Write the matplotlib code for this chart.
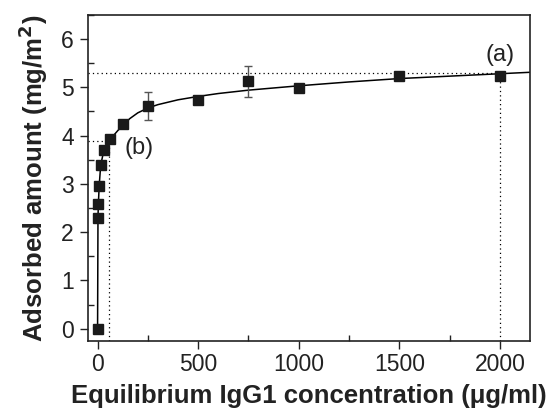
import matplotlib
matplotlib.use("Agg")
import matplotlib.pyplot as plt
from matplotlib.ticker import MultipleLocator

plt.rcParams["font.family"] = ["Liberation Sans", "DejaVu Sans"]

# measured points (equilibrium conc in ug/ml, adsorbed amount in mg/m2)
conc = [0, 2, 4, 8, 15.6, 31.25, 62.5, 125, 250, 500, 750, 1000, 1500, 2000]
amount = [0.0, 2.30, 2.59, 2.96, 3.39, 3.69, 3.92, 4.23, 4.61, 4.73, 5.12,
          4.99, 5.24, 5.24]
err = [0, 0, 0, 0, 0.05, 0, 0, 0, 0.29, 0, 0.33, 0.04, 0.08, 0.05]

# fitted isotherm
fit_x = [0, 2, 4, 8, 15.6, 31.25, 62.5, 100, 125, 160, 200, 250, 300, 400,
         500, 600, 750, 1000, 1250, 1500, 1750, 2000, 2150]
fit_y = [0.0, 2.30, 2.59, 2.96, 3.39, 3.69, 3.92, 4.10, 4.21, 4.35, 4.47,
         4.57, 4.64, 4.74, 4.81, 4.87, 4.94, 5.03, 5.11, 5.18, 5.23, 5.28, 5.31]

# guide lines: (a) plateau, (b) half-way point
a_x, a_y = 2000, 5.30
b_x, b_y = 57, 3.89

fig = plt.figure(figsize=(5.47, 4.12), dpi=100)
ax = fig.add_axes([0.16, 0.173, 0.809, 0.791])

ax.plot(fit_x, fit_y, color="black", lw=1.1, zorder=2)
ax.errorbar(conc, amount, yerr=err, fmt="s", ms=7.2, color="#1a1a1a",
            mec="#1a1a1a", ecolor="#555555", elinewidth=1.0, capsize=3,
            capthick=1.0, zorder=3)

ax.plot([-50, a_x], [a_y, a_y], ls=(0, (1, 2.5)), color="black", lw=0.9)
ax.plot([a_x, a_x], [-0.25, a_y], ls=(0, (1, 2.5)), color="black", lw=0.9)
ax.plot([-50, b_x], [b_y, b_y], ls=(0, (1, 2.5)), color="black", lw=0.9)
ax.plot([b_x, b_x], [-0.25, b_y], ls=(0, (1, 2.5)), color="black", lw=0.9)

ax.text(2000, 5.66, "(a)", fontsize=17, ha="center", va="center",
        color="#222222")
ax.text(205, 3.74, "(b)", fontsize=17, ha="center", va="center",
        color="#222222")

ax.set_xlim(-50, 2150)
ax.set_ylim(-0.25, 6.5)
ax.xaxis.set_major_locator(MultipleLocator(500))
ax.xaxis.set_minor_locator(MultipleLocator(250))
ax.yaxis.set_major_locator(MultipleLocator(1))
ax.yaxis.set_minor_locator(MultipleLocator(0.5))
ax.tick_params(which="major", direction="out", length=6, width=1.0,
               labelsize=16.5, colors="#222222", pad=4)
ax.tick_params(axis="x", which="major", pad=3)
ax.tick_params(which="minor", direction="in", length=4, width=1.0,
               colors="#222222")
for s in ax.spines.values():
    s.set_linewidth(1.2)
    s.set_color("#222222")

ax.set_xlabel("Equilibrium IgG1 concentration (\u03bcg/ml)", fontsize=18.5,
              fontweight="bold", color="#222222", labelpad=5.5)
ax.set_ylabel("Adsorbed amount (mg/m$\\mathbf{^2}$)", fontsize=18.5,
              fontweight="bold", color="#222222", labelpad=8)

fig.savefig("out.png", dpi=100)
